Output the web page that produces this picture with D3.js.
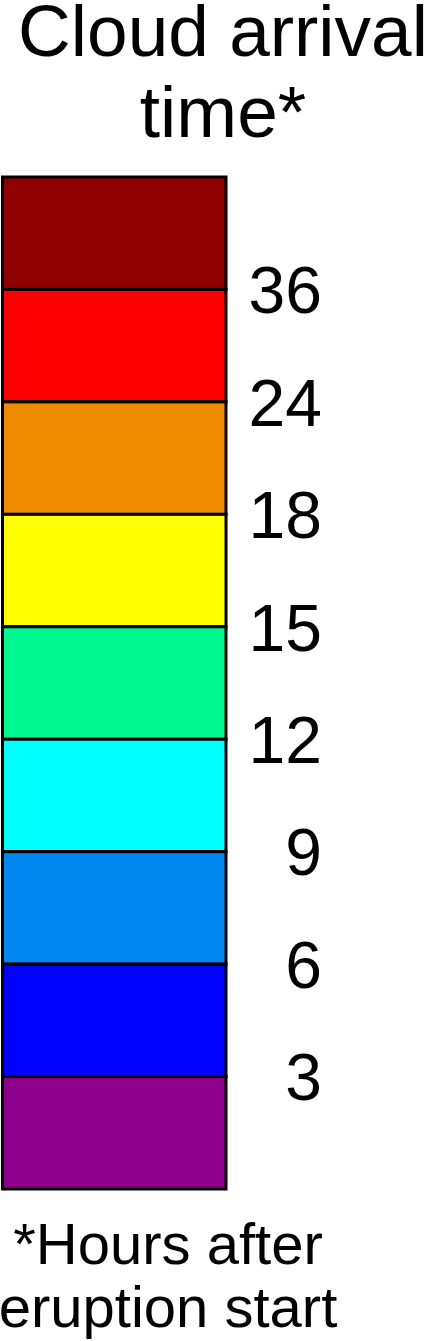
<!DOCTYPE html>
<html>
<head>
<meta charset="utf-8">
<script src="https://cdn.jsdelivr.net/npm/d3@7"></script>
<style>
html,body{margin:0;padding:0;background:#fff;}
svg{display:block;}
text{font-family:"Liberation Sans",Arial,sans-serif;fill:#000;}
</style>
</head>
<body>
<script>
// Bands from top (longest arrival) to bottom (shortest)
const bandIds = ["gt36","24-36","18-24","15-18","12-15","9-12","6-9","3-6","lt3"];
const bandColors = ["#8f0000","#ff0000","#f08c00","#ffff00","#00f890","#00ffff","#0088f0","#0000ff","#8c008c"];
const tickLabels = ["36","24","18","15","12","9","6","3"];
const titleLines = ["Cloud arrival","time*"];
const noteLines = ["*Hours after","eruption start"];

(function(){
const W = 430, H = 1341;
const svg = d3.select("body").append("svg").attr("width", W).attr("height", H);

const barTop = 177, barBottom = 1189, barLeft = 2.5, barRight = 226;
const y = d3.scaleBand().domain(bandIds).range([barTop, barBottom]).padding(0);
const yb = d3.scaleLinear().domain([0, bandIds.length]).range([barTop, barBottom]);

svg.append("g").selectAll("rect").data(bandIds).join("rect")
  .attr("x", barLeft).attr("y", d => y(d))
  .attr("width", barRight - barLeft).attr("height", y.bandwidth())
  .attr("fill", (d, i) => bandColors[i])
  .attr("stroke", "#000").attr("stroke-width", 3);

svg.append("g").selectAll("text").data(tickLabels).join("text")
  .attr("x", 322).attr("y", (d, i) => yb(i + 1))
  .attr("dy", "0.36em")
  .attr("text-anchor", "end")
  .attr("font-size", 66)
  .text(d => d);

svg.append("g").selectAll("text").data(titleLines).join("text")
  .attr("x", 223).attr("y", (d, i) => 56 + i * 81)
  .attr("text-anchor", "middle")
  .attr("font-size", 73)
  .text(d => d);

svg.append("g").selectAll("text").data(noteLines).join("text")
  .attr("x", 168).attr("y", (d, i) => 1264 + i * 63)
  .attr("text-anchor", "middle")
  .attr("font-size", 58)
  .text(d => d);
})();
</script>
</body>
</html>
